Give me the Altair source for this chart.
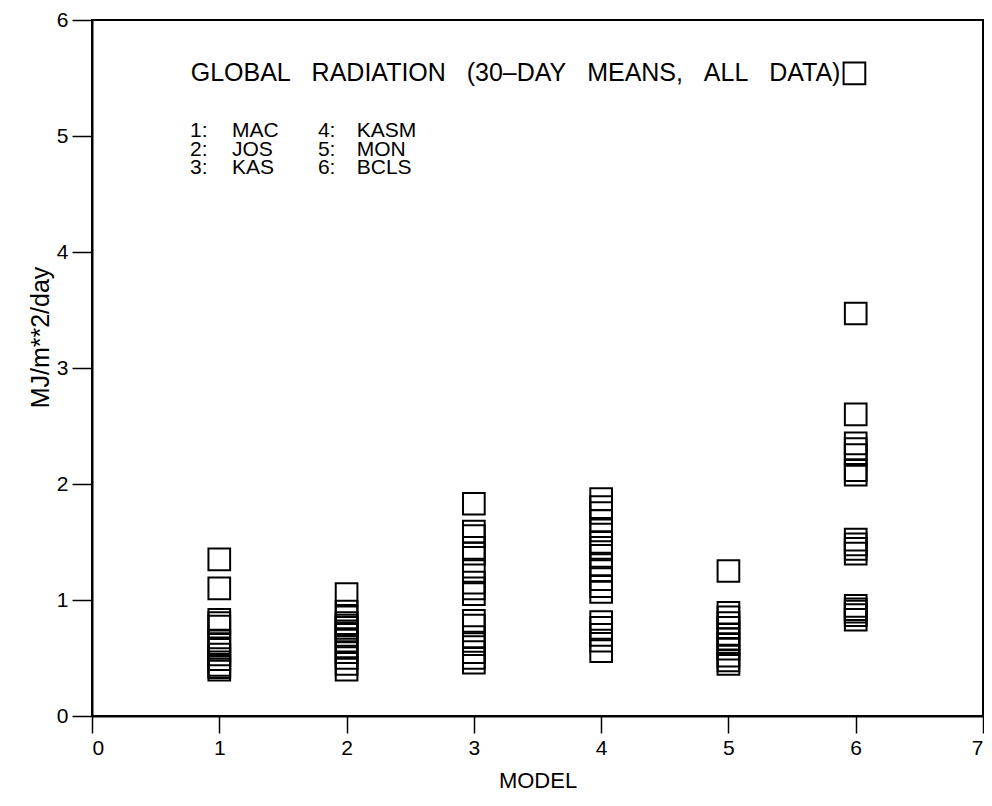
import altair as alt
import pandas as pd

# ---- data ----
models = [1, 2, 3, 4, 5, 6]
model_names = ["MAC", "JOS", "KAS", "KASM", "MON", "BCLS"]
mac = [1.35, 1.10, 0.83, 0.80, 0.77, 0.65, 0.62, 0.57, 0.53, 0.49, 0.44, 0.42, 0.40]
jos = [1.05, 0.90, 0.85, 0.80, 0.78, 0.76, 0.73, 0.70, 0.65, 0.60, 0.55, 0.50, 0.45, 0.40]
kas = [1.83, 1.59, 1.55, 1.45, 1.40, 1.25, 1.15, 1.10, 1.05, 0.82, 0.78, 0.68, 0.62, 0.55, 0.50, 0.46]
kasm = [1.87, 1.80, 1.75, 1.68, 1.60, 1.50, 1.45, 1.38, 1.30, 1.25, 1.18, 1.12, 1.07,
        0.81, 0.76, 0.70, 0.65, 0.56]
mon = [1.25, 0.89, 0.85, 0.80, 0.76, 0.70, 0.66, 0.62, 0.58, 0.52, 0.48, 0.45]
bcls = [3.47, 2.60, 2.35, 2.30, 2.25, 2.12, 2.08, 1.52, 1.48, 1.44, 1.40,
        0.95, 0.92, 0.90, 0.87, 0.83]

# legend entry (text + symbol), placed in data coordinates
SP = "\u00a0\u00a0\u00a0"
legend_label = [f"GLOBAL{SP}RADIATION{SP}(30\u2013DAY{SP}MEANS,{SP}ALL{SP}DATA)"]
legend_text_x = [5.88]
legend_sym_x = [5.99]
legend_y = [5.54]

x_ticks = [0, 1, 2, 3, 4, 5, 6, 7]
y_ticks = [0, 1, 2, 3, 4, 5, 6]

# key text (model number : name)
key_num = ["1:", "2:", "3:", "4:", "5:", "6:"]
key_name = model_names
key_numx = [0.77, 0.77, 0.77, 1.775, 1.775, 1.775]
key_namex = [1.10, 1.10, 1.10, 2.08, 2.08, 2.08]
key_y = [5.04, 4.88, 4.72, 5.04, 4.88, 4.72]

rows = []
for m, vals in zip(models, [mac, jos, kas, kasm, mon, bcls]):
    for v in vals:
        rows.append({"model": m, "value": v})
df = pd.DataFrame(rows)
key_df = pd.DataFrame({"num": key_num, "name": key_name, "nx": key_numx,
                       "tx": key_namex, "y": key_y})
leg_df = pd.DataFrame({"label": legend_label, "tx": legend_text_x,
                       "sx": legend_sym_x, "y": legend_y})

FONT = "Liberation Sans"
SQ = 470

xs = alt.Scale(domain=[0, 7], nice=False, zero=False)
ys = alt.Scale(domain=[0, 6], nice=False)

points = alt.Chart(df).mark_point(
    shape="square", filled=False, color="black", strokeWidth=2, size=SQ, opacity=1
).encode(
    x=alt.X("model:Q", scale=xs, title="MODEL",
            axis=alt.Axis(values=x_ticks, format="d", tickSize=17, titleFontSize=22,
                          titlePadding=12)),
    y=alt.Y("value:Q", scale=ys, title="MJ/m**2/day",
            axis=alt.Axis(values=y_ticks, format="d", tickSize=20, titleFontSize=25,
                          titleX=-52, titleY=317, titleAngle=270, titleAlign="center",
                          titleBaseline="middle")),
)

leg_sym = alt.Chart(leg_df).mark_point(
    shape="square", filled=False, color="black", strokeWidth=2, size=SQ, opacity=1
).encode(x=alt.X("sx:Q", scale=xs), y=alt.Y("y:Q", scale=ys))

leg_text = alt.Chart(leg_df).mark_text(
    align="right", baseline="middle", fontSize=25, font=FONT, color="black"
).encode(x=alt.X("tx:Q", scale=xs), y=alt.Y("y:Q", scale=ys), text="label:N")

num_text = alt.Chart(key_df).mark_text(
    align="left", baseline="middle", fontSize=21, font=FONT, color="black"
).encode(x=alt.X("nx:Q", scale=xs), y=alt.Y("y:Q", scale=ys), text="num:N")

name_text = alt.Chart(key_df).mark_text(
    align="left", baseline="middle", fontSize=21, font=FONT, color="black"
).encode(x=alt.X("tx:Q", scale=xs), y=alt.Y("y:Q", scale=ys), text="name:N")

chart = alt.layer(points, leg_sym, leg_text, num_text, name_text).properties(
    width=891, height=696,
    background="white",
    autosize=alt.AutoSizeParams(type="none"),
    padding={"left": 84, "top": 12, "right": 1, "bottom": 80},
).configure_view(
    stroke="black", strokeWidth=2
).configure_axis(
    grid=False, domainColor="black", domainWidth=2, tickColor="black", tickWidth=1.5,
    labelFontSize=21, labelFont=FONT, labelColor="black", labelPadding=4,
    titleFont=FONT, titleFontWeight="normal", titleColor="black",
)

chart.save("out.html", embed_options={"renderer": "svg", "actions": False})
